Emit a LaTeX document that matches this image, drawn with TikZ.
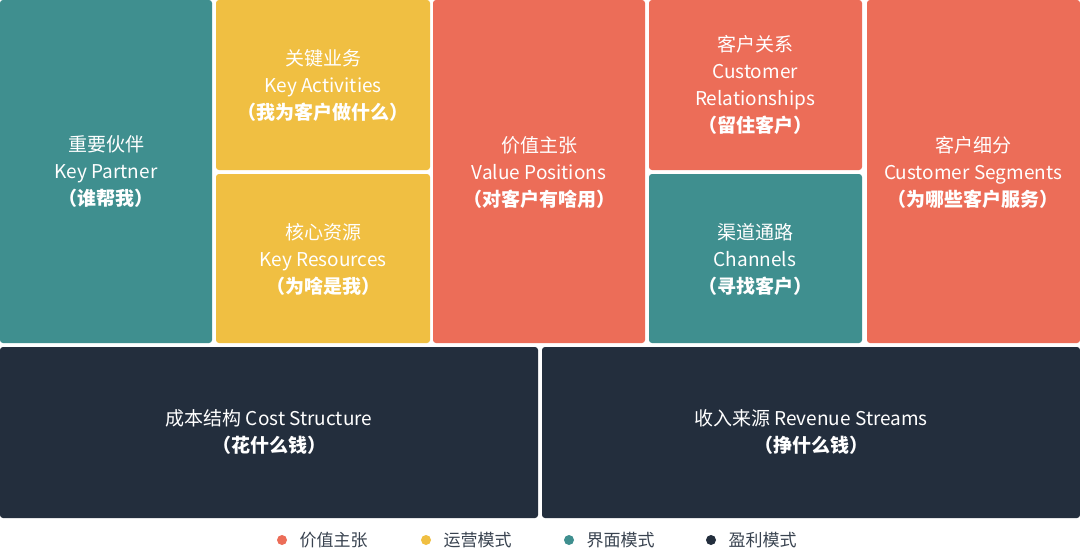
\documentclass[tikz,border=0pt]{standalone}
\usepackage{fontspec}
\setmainfont{Noto Sans CJK SC}
\definecolor{teal}{HTML}{3F8F8F}
\definecolor{yel}{HTML}{F0BF42}
\definecolor{red}{HTML}{EC6D58}
\definecolor{dark}{HTML}{232E3D}
\tikzset{blk/.style={rounded corners=3pt},
 lab/.style={text=white,align=center,font=\fontsize{19}{27}\selectfont},
 leg/.style={text=dark!90,anchor=west,font=\fontsize{17}{20}\selectfont}}
\begin{document}
\begin{tikzpicture}[x=1pt,y=-1pt]
\useasboundingbox (0,0) rectangle (1080,555);
\fill[white] (0,0) rectangle (1080,555);
\fill[blk,teal] (0,0) rectangle (212,343);
\fill[blk,yel] (216,0) rectangle (430,170);
\fill[blk,yel] (216,174) rectangle (430,343);
\fill[blk,red] (433,0) rectangle (645,343);
\fill[blk,red] (649,0) rectangle (862,170);
\fill[blk,teal] (649,174) rectangle (862,343);
\fill[blk,red] (867,0) rectangle (1080,343);
\fill[blk,dark] (0,347) rectangle (538,518);
\fill[blk,dark] (542,347) rectangle (1080,518);
\node[lab] (kp) at (106,172) {重要伙伴\\Key Partner\\\textbf{（谁帮我）}};
\node[lab] (ka) at (323,85) {关键业务\\Key Activities\\\textbf{（我为客户做什么）}};
\node[lab] (kr) at (323,259) {核心资源\\Key Resources\\\textbf{（为啥是我）}};
\node[lab] (vp) at (539,172) {价值主张\\Value Positions\\\textbf{（对客户有啥用）}};
\node[lab] (cr) at (755,85) {客户关系\\Customer\\Relationships\\\textbf{（留住客户）}};
\node[lab] (ch) at (755,259) {渠道通路\\Channels\\\textbf{（寻找客户）}};
\node[lab] (cs) at (973,172) {客户细分\\Customer Segments\\\textbf{（为哪些客户服务）}};
\node[lab] (cost) at (269,432) {成本结构 Cost Structure\\\textbf{（花什么钱）}};
\node[lab] (rev) at (811,432) {收入来源 Revenue Streams\\\textbf{（挣什么钱）}};
\fill[red] (282,540) circle (5);
\node[leg] (l1) at (296,540) {价值主张};
\fill[yel] (426,540) circle (5);
\node[leg] (l2) at (440,540) {运营模式};
\fill[teal] (569,540) circle (5);
\node[leg] (l3) at (583,540) {界面模式};
\fill[dark] (711,540) circle (5);
\node[leg] (l4) at (725,540) {盈利模式};
\end{tikzpicture}
\end{document}
